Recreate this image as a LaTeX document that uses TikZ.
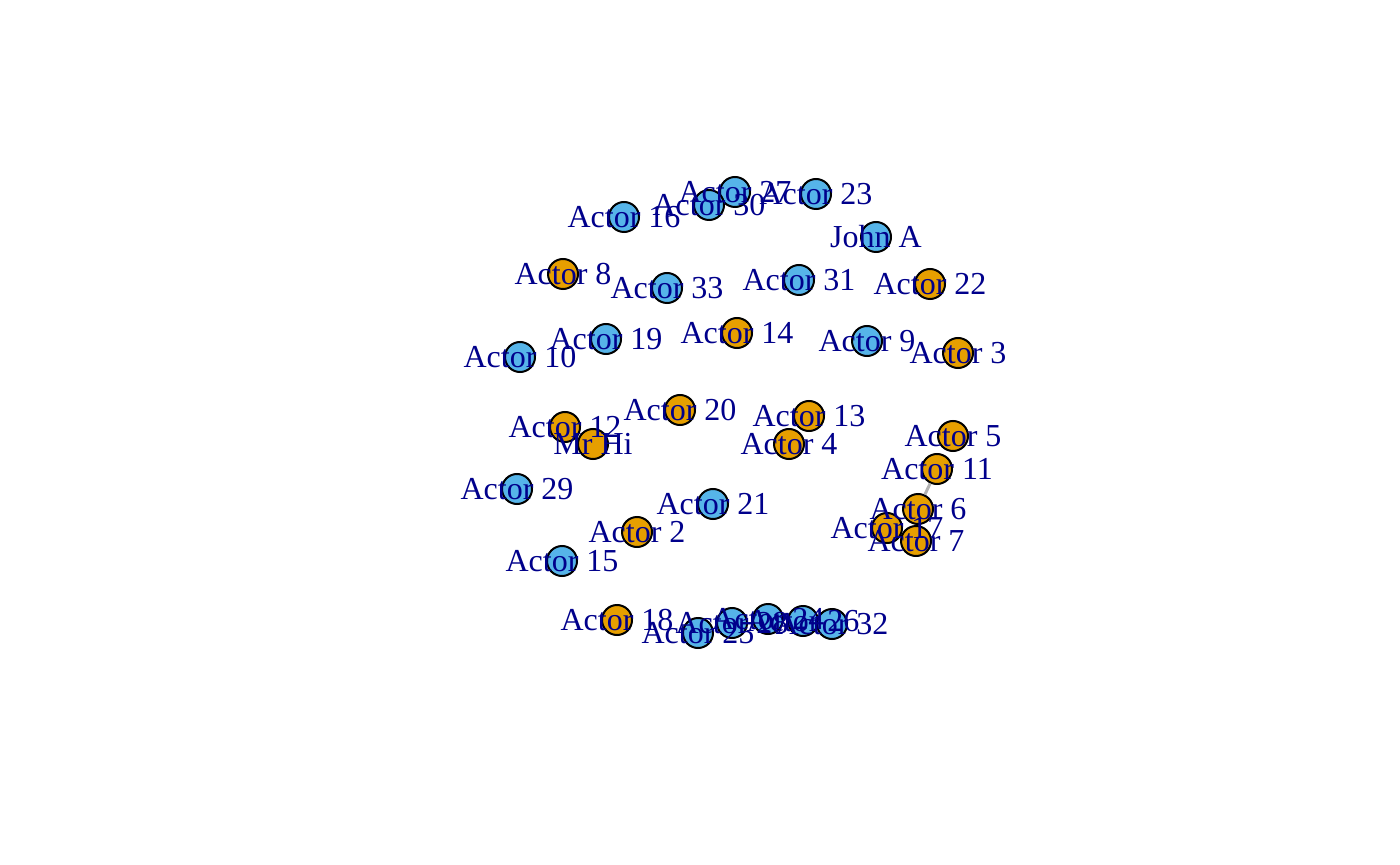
\documentclass[tikz,border=0pt]{standalone}
\usepackage{fontspec}
\setmainfont{Liberation Serif}
\usepackage{tikz}
\usetikzlibrary{positioning}
\definecolor{hiorange}{HTML}{E69F00}
\definecolor{jablue}{HTML}{56B4E9}
\definecolor{lblblue}{HTML}{00008B}

\begin{document}
\begin{tikzpicture}[x=0.5pt,y=-0.5pt,
  vertex/.style={circle,draw=black,line width=1pt,minimum size=15pt,inner sep=0pt},
  lbl/.style={text=lblblue,font=\fontsize{16}{18}\selectfont,inner sep=0pt},
  edge/.style={draw=black!30,line width=1.5pt}]
  \useasboundingbox (0,0) rectangle (1400,865);
  \foreach \n/\x/\y/\c in {a27/735/192/jablue,a30/709/205/jablue,a23/816/194/jablue,
    a16/624/217/jablue,ja/876/237/jablue,a8/563/274/hiorange,a33/667/288/jablue,
    a31/799/280/jablue,a22/930/284/hiorange,a19/606/339/jablue,a14/737/333/hiorange,
    a9/867/341/jablue,a3/958/353/hiorange,a10/520/357/jablue,a20/680/410/hiorange,
    a13/809/416/hiorange,a12/565/427/hiorange,hi/593/444/hiorange,a4/789/444/hiorange,
    a5/953/436/hiorange,a11/937/469/hiorange,a29/517/489/jablue,a21/713/504/jablue,
    a6/918/509/hiorange,a2/637/532/hiorange,a17/887/528/hiorange,a7/916/541/hiorange,
    a15/562/561/jablue,a18/617/620/hiorange,a25/698/633/jablue,a28/732/623/jablue,
    a24/768/619/jablue,a26/803/621/jablue,a32/832/624/jablue}
    \node[vertex,fill=\c] (\n) at (\x,\y) {};
  \draw[edge] (a11) -- (a6);
  \foreach \n/\t in {a27/Actor 27,a30/Actor 30,a23/Actor 23,a16/Actor 16,ja/John A,
    a8/Actor 8,a33/Actor 33,a31/Actor 31,a22/Actor 22,a19/Actor 19,a14/Actor 14,
    a9/Actor 9,a3/Actor 3,a10/Actor 10,a20/Actor 20,a13/Actor 13,a12/Actor 12,
    hi/Mr Hi,a4/Actor 4,a5/Actor 5,a11/Actor 11,a29/Actor 29,a21/Actor 21,a6/Actor 6,
    a2/Actor 2,a17/Actor 17,a7/Actor 7,a15/Actor 15,a18/Actor 18,a25/Actor 25,
    a28/Actor 28,a24/Actor 24,a26/Actor 26,a32/Actor 32}
    \node[lbl] (l\n) at (\n) {\t};
\end{tikzpicture}
\end{document}
